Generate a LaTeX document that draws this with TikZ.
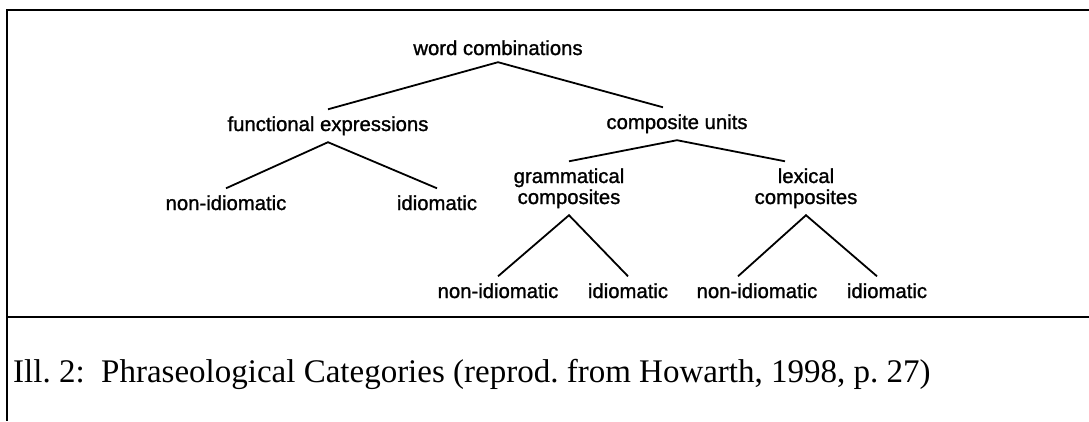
\documentclass[tikz,border=0pt]{standalone}
\usepackage{fontspec}
\setmainfont{Liberation Serif}
\newfontfamily\catfont[FakeBold=1.2]{Liberation Sans}
\begin{document}
\begin{tikzpicture}[x=1pt,y=-1pt,
	cat/.style={font=\catfont\fontsize{20.3}{21}\selectfont,anchor=base,inner sep=0pt,outer sep=7pt,align=center},
	link/.style={line width=1.8pt},
	frame/.style={line width=2pt}]
	\useasboundingbox (0,0) rectangle (1089,421);
	% tree
	\node[cat] (wc) at (498,55) {word combinations};
	\node[cat] (fe) at (328,131) {functional expressions};
	\node[cat] (cu) at (677,129) {composite units};
	\node[cat] (feN) at (226,210) {non-idiomatic};
	\node[cat] (feI) at (437,210) {idiomatic};
	\node[cat] (gc) at (569,204) {grammatical\\composites};
	\node[cat] (lc) at (806,204) {lexical\\composites};
	\node[cat] (gcN) at (498,298) {non-idiomatic};
	\node[cat] (gcI) at (628,298) {idiomatic};
	\node[cat] (lcN) at (757,298) {non-idiomatic};
	\node[cat] (lcI) at (887,298) {idiomatic};
	\draw[link] (fe.north) -- (wc.south) -- ([xshift=-14pt]cu.north);
	\draw[link] (feN.north) -- (fe.south) -- (feI.north);
	\draw[link] (gc.north) -- (cu.south) -- ([xshift=-21pt]lc.north);
	\draw[link] (gcN.north) -- (gc.south) -- (gcI.north);
	\draw[link] ([xshift=-19pt]lcN.north) -- (lc.south) -- ([xshift=-10pt]lcI.north);
	% frame and caption
	\draw[frame] (1089,10) -- (7,10) -- (7,421) (7,317) -- (1089,317);
	\node[anchor=base west,inner sep=0pt,font=\fontsize{33}{38}\selectfont\frenchspacing] (cap) at (13,382)
		{Ill. 2:\ \ Phraseological Categories (reprod. from Howarth, 1998, p. 27)};
\end{tikzpicture}
\end{document}
